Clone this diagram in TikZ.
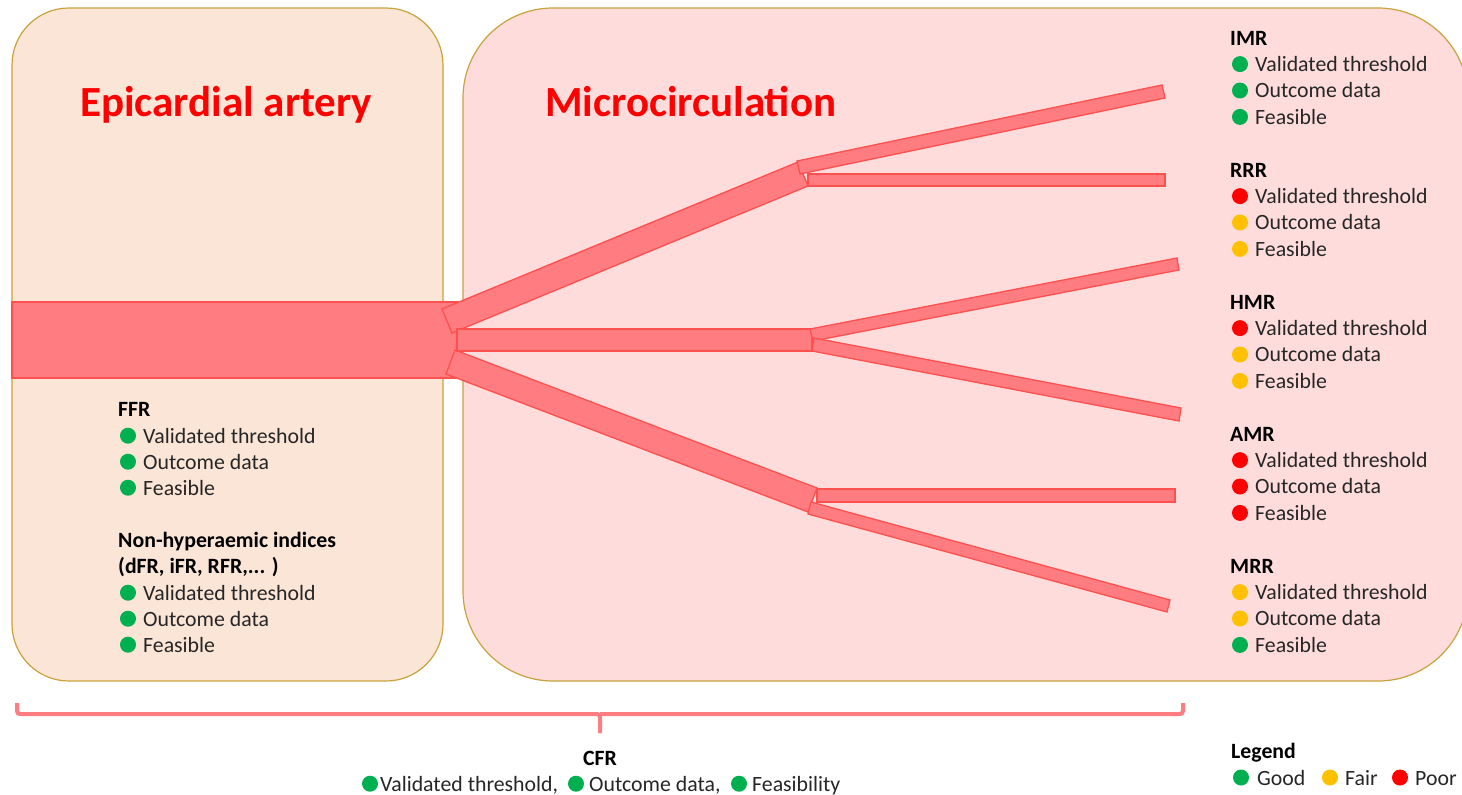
\documentclass[tikz,border=0pt]{standalone}
\usepackage{fontspec}
\setmainfont{Carlito}
\definecolor{peach}{RGB}{251,229,214}
\definecolor{pinkbg}{RGB}{255,220,220}
\definecolor{boxline}{RGB}{201,162,60}
\definecolor{vessel}{RGB}{255,124,128}
\definecolor{vesselline}{RGB}{255,80,80}
\definecolor{good}{RGB}{0,176,80}
\definecolor{fair}{RGB}{255,192,0}
\definecolor{poor}{RGB}{255,0,0}
\definecolor{txt}{RGB}{38,38,38}
\newcommand\statrow[5]{% name, x (heading), baseline, colour, text
  \fill[#4] ({#2+10},{#3-7.3}) circle (8);
  \node[itemtxt] (#1) at ({#2+25},#3) {#5};
}
\begin{document}
\begin{tikzpicture}[x=1pt,y=-1pt,
  region/.style={draw=boxline, line width=1.2pt},
  vesselpart/.style={fill=vessel, draw=vesselline, line width=1.3pt, line join=miter},
  titletxt/.style={text=red, font=\fontsize{43}{50}\selectfont\bfseries, inner sep=0, anchor=base west},
  headtxt/.style={text=black, font=\fontsize{21.8}{26.4}\selectfont\bfseries, inner sep=0, anchor=base west},
  itemtxt/.style={text=txt, font=\fontsize{21.8}{26.4}\selectfont, inner sep=0, anchor=base west},
  bracepart/.style={draw=vessel, line width=4pt, rounded corners=3pt}]
\useasboundingbox (0,0) rectangle (1462,795);
\clip (0,0) rectangle (1462,795);
% regions
\draw[region, fill=peach, rounded corners=57pt] (12,8) rectangle (443,681);
\draw[region, fill=pinkbg, rounded corners=90pt] (463,8) rectangle (1468,681);
% titles
\node[titletxt] (epi) at (80,116) {Epicardial artery};
\node[titletxt] (micro) at (545,116) {Microcirculation};
% vessel tree
\draw[vesselpart] (12,302) rectangle (458,378);
\draw[vesselpart] (442,309) -- (452,333) -- (808,186) -- (798,162) -- cycle;
\draw[vesselpart] (455,350) -- (446,374) -- (808,512) -- (817,488) -- cycle;
\draw[vesselpart] (457,329) rectangle (812,351);
\draw[vesselpart] (797,161) -- (800,174) -- (1165,98) -- (1162,85) -- cycle;
\draw[vesselpart] (808,174) rectangle (1165,186);
\draw[vesselpart] (810,329) -- (813,341) -- (1179,270) -- (1177,258) -- cycle;
\draw[vesselpart] (814,338) -- (812,351) -- (1179,421) -- (1181,408) -- cycle;
\draw[vesselpart] (817,489) rectangle (1175,502);
\draw[vesselpart] (811,502) -- (808,514) -- (1167,612) -- (1170,600) -- cycle;
% left lists
\node[headtxt] (ffr) at (118,416) {FFR};
\statrow{ffr1}{118}{443}{good}{Validated threshold}
\statrow{ffr2}{118}{469}{good}{Outcome data}
\statrow{ffr3}{118}{495}{good}{Feasible}
\node[headtxt] (nhi) at (118,547) {Non-hyperaemic indices};
\node[headtxt] (nhib) at (118,573) {(dFR, iFR, RFR,... )};
\statrow{nhi1}{118}{600}{good}{Validated threshold}
\statrow{nhi2}{118}{626}{good}{Outcome data}
\statrow{nhi3}{118}{652}{good}{Feasible}
% right lists
\node[headtxt] (imr) at (1230,45) {IMR};
\statrow{imr1}{1230}{71.4}{good}{Validated threshold}
\statrow{imr2}{1230}{97.8}{good}{Outcome data}
\statrow{imr3}{1230}{124.2}{good}{Feasible}
\node[headtxt] (rrr) at (1230,177) {RRR};
\statrow{rrr1}{1230}{203.4}{poor}{Validated threshold}
\statrow{rrr2}{1230}{229.8}{fair}{Outcome data}
\statrow{rrr3}{1230}{256.2}{fair}{Feasible}
\node[headtxt] (hmr) at (1230,309) {HMR};
\statrow{hmr1}{1230}{335.4}{poor}{Validated threshold}
\statrow{hmr2}{1230}{361.8}{fair}{Outcome data}
\statrow{hmr3}{1230}{388.2}{fair}{Feasible}
\node[headtxt] (amr) at (1230,441) {AMR};
\statrow{amr1}{1230}{467.4}{poor}{Validated threshold}
\statrow{amr2}{1230}{493.8}{poor}{Outcome data}
\statrow{amr3}{1230}{520.2}{poor}{Feasible}
\node[headtxt] (mrr) at (1230,573) {MRR};
\statrow{mrr1}{1230}{599.4}{fair}{Validated threshold}
\statrow{mrr2}{1230}{625.8}{fair}{Outcome data}
\statrow{mrr3}{1230}{652.2}{good}{Feasible}
% brace
\coordinate (bl) at (17,703);
\coordinate (bm) at (600,714);
\coordinate (bt) at (600,733);
\coordinate (br) at (1183,703);
\draw[bracepart] (bl) |- (bm) -- (bt);
\draw[bracepart] (bm) -| (br);
% CFR
\node[headtxt, anchor=base] (cfr) at (600,765) {CFR};
\fill[good] (370,783.7) circle (8);
\node[itemtxt] (cfr1) at (380,791) {Validated threshold,};
\fill[good] (576,783.7) circle (8);
\node[itemtxt] (cfr2) at (589,791) {Outcome data,};
\fill[good] (739,783.7) circle (8);
\node[itemtxt] (cfr3) at (752,791) {Feasibility};
% legend
\node[headtxt] (leg) at (1231,758) {Legend};
\fill[good] (1241,777.5) circle (8);
\node[itemtxt] (lg1) at (1257,785) {Good};
\fill[fair] (1330,777.5) circle (8);
\node[itemtxt] (lg2) at (1345,785) {Fair};
\fill[poor] (1400,777.5) circle (8);
\node[itemtxt] (lg3) at (1415,785) {Poor};
\end{tikzpicture}
\end{document}
